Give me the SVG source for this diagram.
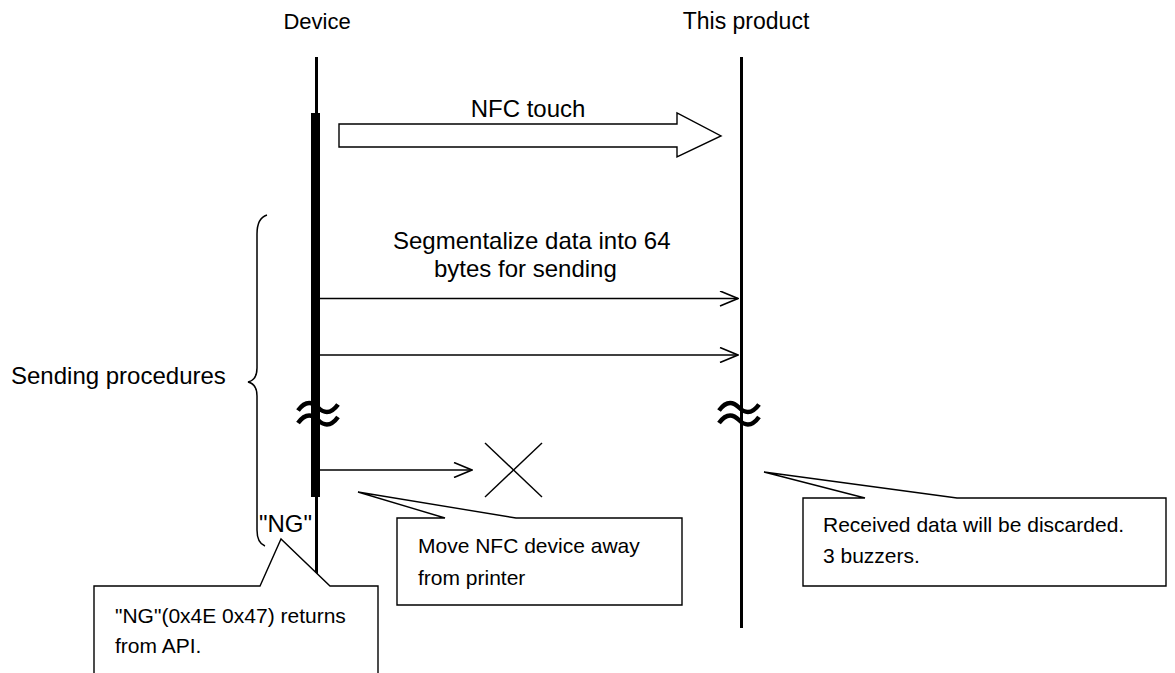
<svg xmlns="http://www.w3.org/2000/svg" width="1175" height="673" viewBox="0 0 1175 673">
<style>
text{font-family:"Liberation Sans",Arial,sans-serif;fill:#000}
.lbl{font-size:24px}
.hdr{font-size:22.5px;text-anchor:middle}
.co{font-size:21px}
.life{stroke:#000;stroke-width:3;fill:none}
.msg{stroke:#000;stroke-width:1.6;fill:none}
.callout{fill:#fff;stroke:#000;stroke-width:1.4}
.wave{fill:none;stroke:#000;stroke-width:4.5}
</style>
<defs>
<marker id="open" viewBox="0 0 20 16" refX="19" refY="8" markerWidth="20" markerHeight="16" markerUnits="userSpaceOnUse" orient="auto">
<path d="M1,0.5 L19,8 L1,15.5" fill="none" stroke="#000" stroke-width="1.6"/>
</marker>
<path id="tilde" d="M-20,3 C-12,-8 -5,-5 0,0 C5,5 12,8 20,-3"/>
</defs>

<g id="device">
<text class="hdr" x="317" y="29" style="font-size:22px">Device</text>
<line class="life" x1="316.5" y1="57" x2="316.5" y2="590"/>
<rect x="311" y="113" width="9" height="384" fill="#000"/>
</g>

<g id="product">
<text class="hdr" x="746" y="29" style="font-size:23px">This product</text>
<line class="life" x1="741.5" y1="57" x2="741.5" y2="628"/>
</g>

<g id="connectors">
<polygon points="339,124 677,124 677,113 721,136 677,157 677,147 339,147" fill="#fff" stroke="#000" stroke-width="1.4"/>
<text class="lbl" x="528" y="117" text-anchor="middle">NFC touch</text>
<text class="lbl" x="393" y="249">Segmentalize data into 64</text>
<text class="lbl" x="434" y="277">bytes for sending</text>
<line class="msg" x1="320" y1="298.5" x2="738" y2="298.5" marker-end="url(#open)"/>
<line class="msg" x1="320" y1="355" x2="738" y2="355" marker-end="url(#open)"/>
<line class="msg" x1="320" y1="470" x2="472" y2="470" marker-end="url(#open)"/>
</g>

<g id="lost">
<line x1="485" y1="443" x2="542" y2="497" stroke="#000" stroke-width="1.4"/>
<line x1="542" y1="443" x2="485" y2="497" stroke="#000" stroke-width="1.4"/>
</g>

<g id="breaks">
<use href="#tilde" class="wave" transform="translate(318,407.5)"/>
<use href="#tilde" class="wave" transform="translate(318,420)"/>
<use href="#tilde" class="wave" transform="translate(739,407.5)"/>
<use href="#tilde" class="wave" transform="translate(739,420)"/>
</g>

<g id="sending-procedures">
<path d="M267,215 Q257,218 257,234 L257,368 Q257,380 248,382 Q257,384 257,396 L257,530 Q257,543 265,546" fill="none" stroke="#000" stroke-width="1.5"/>
<text class="lbl" x="11" y="384">Sending procedures</text>
</g>

<g id="ng-label">
<text x="259" y="532" style="font-size:24px">"NG"</text>
</g>

<g id="callout-ng">
<path class="callout" d="M94,680 L94,586 L260,586 L281,539 L330,586 L378,586 L378,680"/>
<text class="co" x="115" y="623">"NG"(0x4E 0x47) returns</text>
<text class="co" x="115" y="653">from API.</text>
</g>

<g id="callout-move">
<path class="callout" d="M397,518 L445,518 L358,492 L516,518 L682,518 L682,605 L397,605 Z"/>
<text class="co" x="418" y="553">Move NFC device away</text>
<text class="co" x="418" y="585">from printer</text>
</g>

<g id="callout-received">
<path class="callout" d="M803,498 L865,498 L764,472 L957,498 L1166,498 L1166,586 L803,586 Z"/>
<text class="co" x="823" y="532">Received data will be discarded.</text>
<text class="co" x="823" y="563">3 buzzers.</text>
</g>
</svg>
